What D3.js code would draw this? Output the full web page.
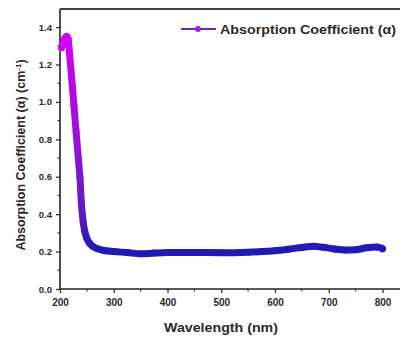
<!DOCTYPE html>
<html>
<head>
<meta charset="utf-8">
<script src="https://cdn.jsdelivr.net/npm/d3@7"></script>
<style>
  html, body { margin: 0; padding: 0; background: #fff; }
  svg { display: block; }
  text { font-family: "Liberation Sans", Arial, sans-serif; font-weight: bold; fill: #2a2a2a; }
</style>
</head>
<body>
<svg id="chart" width="400" height="338"></svg>
<script>
// Absorption spectrum: wavelength (nm) vs absorption coefficient
const wavelength = [203, 206, 209, 212, 215, 218, 222, 226, 230, 234, 237, 240, 243, 246, 250, 255, 260, 270, 280, 300, 325, 350, 375, 400, 450, 500, 550, 575, 600, 625, 650, 670, 690, 710, 730, 750, 770, 790, 800];
const alpha      = [1.29, 1.32, 1.34, 1.35, 1.34, 1.25, 1.12, 0.98, 0.84, 0.70, 0.60, 0.45, 0.36, 0.31, 0.27, 0.245, 0.23, 0.215, 0.207, 0.200, 0.195, 0.188, 0.192, 0.195, 0.195, 0.194, 0.197, 0.200, 0.205, 0.213, 0.222, 0.228, 0.223, 0.214, 0.208, 0.210, 0.220, 0.224, 0.215];

const xTicks = [200, 300, 400, 500, 600, 700, 800];
const yTicks = [0.0, 0.2, 0.4, 0.6, 0.8, 1.0, 1.2, 1.4];
const seriesName = "Absorption Coefficient (\u03b1)";

const svg = d3.select("#chart");

const x = d3.scaleLinear().domain([200, 800]).range([60, 382.5]);
const y = d3.scaleLinear().domain([0, 1.5]).range([289, 8.4]);
const frameRight = 401, frameTop = 9;

// colour of the trace follows the value
const colour = d3.scaleLinear().domain([0.2, 0.4, 0.8, 1.35])
  .range(["#1e1ab4", "#5a1cc4", "#9a10dc", "#d400f8"]).clamp(true);

const defs = svg.append("defs");
const grad = defs.append("linearGradient")
  .attr("id", "traceGrad").attr("gradientUnits", "userSpaceOnUse")
  .attr("x1", 0).attr("x2", 0).attr("y1", y(0.2)).attr("y2", y(1.35));
[0.2, 0.3, 0.4, 0.6, 0.8, 1.0, 1.2, 1.35].forEach(v => {
  grad.append("stop")
    .attr("offset", (v - 0.2) / (1.35 - 0.2))
    .attr("stop-color", colour(v));
});

// frame top edge
svg.append("line").attr("x1", 60).attr("x2", frameRight).attr("y1", frameTop).attr("y2", frameTop)
  .attr("stroke", "#444").attr("stroke-width", 2);

// axes
const xAxis = d3.axisBottom(x).tickValues(xTicks).tickFormat(d3.format("d")).tickSize(4).tickPadding(6);
const gx = svg.append("g").attr("transform", `translate(0,${y(0)})`).call(xAxis);
gx.select(".domain").attr("d", `M60,0H${frameRight}`).attr("stroke", "#222").attr("stroke-width", 1.6);
gx.selectAll(".tick line").attr("stroke", "#333").attr("stroke-width", 1.3);
gx.selectAll(".tick text").style("font-size", "10px").attr("fill", "#333");
// minor x ticks
gx.selectAll(".minor").data(d3.range(250, 850, 100)).enter().append("line")
  .attr("x1", d => x(d)).attr("x2", d => x(d)).attr("y1", 0).attr("y2", 2.5)
  .attr("stroke", "#333").attr("stroke-width", 1.2);

const yAxis = d3.axisLeft(y).tickValues(yTicks).tickFormat(d3.format(".1f")).tickSize(4).tickPadding(4);
const gy = svg.append("g").attr("transform", `translate(60,0)`).call(yAxis);
gy.select(".domain").attr("d", `M0,${y(0)}V${frameTop}`).attr("stroke", "#222").attr("stroke-width", 1.6);
gy.selectAll(".tick line").attr("stroke", "#333").attr("stroke-width", 1.3);
gy.selectAll(".tick text").style("font-size", "9.5px").attr("fill", "#333");
gy.selectAll(".minor").data(d3.range(0.1, 1.5, 0.2)).enter().append("line")
  .attr("y1", d => y(d)).attr("y2", d => y(d)).attr("x1", 0).attr("x2", -2.5)
  .attr("stroke", "#333").attr("stroke-width", 1.2);
svg.selectAll(".domain").attr("fill", "none");

// trace
const pts = wavelength.map((w, i) => [w, alpha[i]]);
const line = d3.line().x(d => x(d[0])).y(d => y(d[1])).curve(d3.curveMonotoneX);
svg.append("path").datum(pts).attr("d", line)
  .attr("fill", "none").attr("stroke", "url(#traceGrad)")
  .attr("stroke-width", 7).attr("stroke-linecap", "round").attr("stroke-linejoin", "round");
svg.append("g").selectAll("circle").data(pts).enter().append("circle")
  .attr("cx", d => x(d[0])).attr("cy", d => y(d[1])).attr("r", 3.4)
  .attr("fill", d => colour(d[1]));

// legend
const lg = svg.append("g");
lg.append("line").attr("x1", 181).attr("x2", 216).attr("y1", 29).attr("y2", 29)
  .attr("stroke", "#6a2ab4").attr("stroke-width", 2);
lg.append("circle").attr("cx", 198).attr("cy", 29).attr("r", 3).attr("fill", "#a020d8");
lg.append("text").attr("x", 220).attr("y", 33.5).style("font-size", "12.5px")
  .attr("textLength", 176).attr("lengthAdjust", "spacingAndGlyphs").text(seriesName);

// axis titles
svg.append("text").attr("x", 221).attr("y", 332).attr("text-anchor", "middle")
  .style("font-size", "12px").attr("textLength", 114).attr("lengthAdjust", "spacingAndGlyphs")
  .text("Wavelength (nm)");
svg.append("text").attr("transform", "translate(25,155) rotate(-90)").attr("text-anchor", "middle")
  .style("font-size", "12.5px")
  .html("Absorption Coefficient (\u03b1) (cm<tspan dy='-4' font-size='8px'>-1</tspan><tspan dy='4'>)</tspan>");
</script>
</body>
</html>
